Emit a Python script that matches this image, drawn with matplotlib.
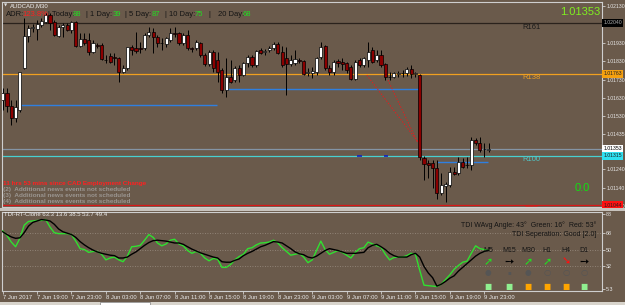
import matplotlib
matplotlib.use("Agg")
import matplotlib.pyplot as plt
import matplotlib.transforms as mtransforms
from matplotlib.patches import Rectangle
import numpy as np

plt.rcParams['font.family'] = ['Liberation Sans', 'DejaVu Sans']

# ---------------- data ----------------
opens = [1.01619, 1.01657, 1.01586, 1.01521, 1.01564, 1.01794, 1.01968, 1.02012, 1.02007, 1.02028,
         1.02045, 1.02083, 1.02045, 1.01968, 1.02018, 1.02028, 1.02001, 1.02045, 1.01914, 1.01952,
         1.01947, 1.01881, 1.01919, 1.01919, 1.01837, 1.01859, 1.01854, 1.01848, 1.01772, 1.01794,
         1.01908, 1.01903, 1.01903, 1.01903, 1.01974, 1.01990, 1.01963, 1.01930, 1.01925, 1.01947,
         1.01985, 1.01985, 1.01930, 1.01974, 1.01903, 1.01903, 1.01930, 1.01865, 1.01816, 1.01881,
         1.01837, 1.01783, 1.01674, 1.01745, 1.01728, 1.01794, 1.01755, 1.01821, 1.01854, 1.01810,
         1.01892, 1.01881, 1.01892, 1.01903, 1.01925, 1.01881, 1.01848, 1.01816, 1.01821, 1.01837,
         1.01832, 1.01766, 1.01766, 1.01772, 1.01854, 1.01914, 1.01794, 1.01772, 1.01832, 1.01826,
         1.01821, 1.01799, 1.01734, 1.01837, 1.01810, 1.01837, 1.01892, 1.01837, 1.01865, 1.01816,
         1.01745, 1.01745, 1.01761, 1.01766, 1.01766, 1.01788, 1.01761, 1.01755, 1.01302, 1.01275,
         1.01275, 1.01248, 1.01111, 1.01149, 1.01155, 1.01226, 1.01220, 1.01280, 1.01264, 1.01264,
         1.01401, 1.01384, 1.01351, 1.01346]
highs = [1.01685, 1.01685, 1.01619, 1.01619, 1.01772, 1.02067, 1.02028, 1.02034, 1.02056, 1.02067,
         1.02094, 1.02094, 1.02056, 1.02028, 1.02039, 1.02039, 1.02050, 1.02050, 1.01985, 1.01985,
         1.01985, 1.01947, 1.01930, 1.01930, 1.01865, 1.01876, 1.01876, 1.01854, 1.01810, 1.01908,
         1.01919, 1.01990, 1.01936, 1.01985, 1.02018, 1.02012, 1.01974, 1.01958, 1.01963, 1.02012,
         1.02018, 1.01990, 1.01985, 1.02001, 1.01908, 1.01947, 1.01936, 1.01876, 1.01892, 1.01892,
         1.01881, 1.01794, 1.01848, 1.01837, 1.01805, 1.01810, 1.01826, 1.01865, 1.01865, 1.01892,
         1.01903, 1.01897, 1.01914, 1.01936, 1.01936, 1.01914, 1.01908, 1.01865, 1.01892, 1.01848,
         1.01837, 1.01794, 1.01799, 1.01854, 1.01936, 1.01919, 1.01810, 1.01837, 1.01843, 1.01848,
         1.01826, 1.01810, 1.01837, 1.01848, 1.01854, 1.01936, 1.01908, 1.01892, 1.01892, 1.01821,
         1.01772, 1.01772, 1.01777, 1.01783, 1.01799, 1.01810, 1.01772, 1.01761, 1.01313, 1.01291,
         1.01291, 1.01291, 1.01220, 1.01171, 1.01253, 1.01253, 1.01308, 1.01302, 1.01308, 1.01417,
         1.01412, 1.01417, 1.01384, 1.01384]
lows = [1.01564, 1.01553, 1.01482, 1.01499, 1.01553, 1.01788, 1.01936, 1.01990, 1.01947, 1.02018,
        1.02039, 1.02001, 1.01968, 1.01963, 1.01963, 1.01996, 1.01985, 1.01908, 1.01908, 1.01919,
        1.01865, 1.01876, 1.01903, 1.01837, 1.01821, 1.01821, 1.01810, 1.01717, 1.01766, 1.01783,
        1.01865, 1.01876, 1.01876, 1.01892, 1.01963, 1.01876, 1.01908, 1.01892, 1.01908, 1.01936,
        1.01963, 1.01919, 1.01919, 1.01892, 1.01881, 1.01892, 1.01854, 1.01805, 1.01805, 1.01772,
        1.01717, 1.01657, 1.01635, 1.01712, 1.01717, 1.01717, 1.01750, 1.01799, 1.01799, 1.01799,
        1.01870, 1.01865, 1.01881, 1.01892, 1.01870, 1.01799, 1.01646, 1.01805, 1.01810, 1.01821,
        1.01755, 1.01750, 1.01739, 1.01755, 1.01843, 1.01783, 1.01755, 1.01755, 1.01799, 1.01783,
        1.01766, 1.01728, 1.01728, 1.01799, 1.01799, 1.01799, 1.01821, 1.01826, 1.01799, 1.01728,
        1.01728, 1.01739, 1.01745, 1.01745, 1.01750, 1.01739, 1.01745, 1.01291, 1.01182, 1.01193,
        1.01139, 1.01078, 1.01100, 1.01062, 1.01144, 1.01209, 1.01209, 1.01248, 1.01248, 1.01237,
        1.01373, 1.01335, 1.01308, 1.01335]
closes = [1.01657, 1.01586, 1.01521, 1.01581, 1.01772, 1.01968, 1.02012, 1.02018, 1.02034, 1.02050,
          1.02083, 1.02039, 1.01974, 1.02018, 1.02028, 1.02001, 1.02045, 1.01914, 1.01952, 1.01930,
          1.01881, 1.01930, 1.01914, 1.01843, 1.01840, 1.01826, 1.01851, 1.01772, 1.01794, 1.01908,
          1.01892, 1.01887, 1.01900, 1.01974, 1.01990, 1.01963, 1.01930, 1.01928, 1.01958, 1.01985,
          1.01979, 1.01930, 1.01974, 1.01903, 1.01897, 1.01936, 1.01865, 1.01816, 1.01881, 1.01794,
          1.01772, 1.01674, 1.01745, 1.01717, 1.01794, 1.01755, 1.01821, 1.01854, 1.01810, 1.01887,
          1.01876, 1.01887, 1.01903, 1.01925, 1.01876, 1.01810, 1.01816, 1.01837, 1.01843, 1.01832,
          1.01761, 1.01772, 1.01777, 1.01848, 1.01908, 1.01794, 1.01772, 1.01826, 1.01821, 1.01816,
          1.01783, 1.01734, 1.01826, 1.01810, 1.01848, 1.01881, 1.01826, 1.01865, 1.01810, 1.01745,
          1.01743, 1.01766, 1.01766, 1.01764, 1.01788, 1.01761, 1.01766, 1.01308, 1.01270, 1.01264,
          1.01248, 1.01111, 1.01155, 1.01160, 1.01226, 1.01215, 1.01280, 1.01253, 1.01262, 1.01401,
          1.01384, 1.01346, 1.01349, 1.01353]

tdi_green = [70, 65, 58, 53, 62, 76, 80, 80.5, 81, 81, 82, 74, 68, 67, 67, 67, 66, 59, 51, 50,
             47, 48, 48, 45, 39, 41, 42, 39, 37, 43, 53, 53.5, 54.5, 60, 66, 63, 57, 54, 56, 60,
             61, 56, 54, 49, 46, 48, 46, 41, 38, 40.6, 39.7, 31, 31, 34, 39, 42.5, 45, 51, 52, 55,
             57, 57.3, 58, 60, 57, 52, 48, 44, 45, 46, 42, 36, 39, 49, 59, 50, 45, 47, 49, 47,
             44, 41, 47, 51, 52, 58, 56, 54, 52.5, 45, 39, 41.5, 42, 42, 43.5, 46, 45, 28, 12, 11.5,
             11, 10.5, 13, 18, 23, 29, 33, 36.5, 37.6, 46, 54, 51, 50, 49.3]
tdi_black = [69, 66, 63.5, 62, 62.5, 68, 75, 79, 80.5, 82, 81.5, 80.5, 77, 72, 69, 67.5, 66, 63, 58.5, 55,
             52, 49.5, 47.5, 46, 45, 44, 43.5, 41, 41, 42, 45, 47.5, 51, 54.5, 57.5, 59.5, 60, 59.5, 59, 58,
             57, 57, 55.6, 53, 50.5, 48.5, 46.5, 45, 43.5, 42, 41, 37, 36.5, 36.5, 38.5, 40, 43.5, 46, 48, 50.5,
             53, 54.5, 56.5, 58.5, 58, 57, 54, 51, 47.5, 45.5, 44.5, 42, 41, 43, 46, 49, 51, 50, 49, 47.5,
             46, 46, 46, 46.5, 47, 52, 54.5, 55.6, 53, 50, 46, 43.5, 42, 42, 42, 44.5, 46, 42, 32, 25,
             20, 11, 13, 16, 19.5, 22, 27, 31, 35, 39, 43, 46, 48, 49.3]

level_names = ['R161', 'R138', 'R100', 'R78']
level_prices = [1.02040, 1.01763, 1.01315, 1.01044]
bid_price = 1.01353

support_start = [4.0, 52.2, 101.0]
support_end = [49.8, 97.0, 112.9]
support_price = [1.01590, 1.01677, 1.01278]

trend_x = [[84.7, 96.6], [89.6, 96.6]]
trend_y = [[1.01755, 1.01390], [1.01728, 1.01384]]

price_ticks = [1.02130, 1.01930, 1.01830, 1.01730, 1.01630, 1.01530, 1.01435, 1.01240, 1.01140, 1.01040]
time_tick_idx = [0, 8, 16, 24, 32, 40, 48, 56, 64, 72, 80, 88, 96, 104, 112]
time_tick_labels = ['7 Jun 2017', '7 Jun 19:00', '7 Jun 23:00', '8 Jun 03:00', '8 Jun 07:00',
                    '8 Jun 11:00', '8 Jun 15:00', '8 Jun 19:00', '8 Jun 23:00', '9 Jun 03:00',
                    '9 Jun 07:00', '9 Jun 11:00', '9 Jun 15:00', '9 Jun 19:00', '9 Jun 23:00']
tdi_levels = [68, 50, 32]
tdi_ticks = [88, 68, 50, 32, 8]
tdi_tick_labels = ['88', '68', '50', '32', '5.3']

adr_labels = ['Today:', '1 Day:', '5 Day:', '10 Day:', '20 Day:']
adr_values = ['88', '39', '87', '75', '68']
tf_names = ['M5', 'M15', 'M30', 'H1', 'H4', 'D1']
tf_arrows = ['up', 'flat', 'up', 'up', 'down', 'flat']
tf_dots = ['fill', 'small', 'fill', 'ring', 'ring', 'ring']
tf_squares = ['green', 'green', 'orange', 'orange', 'orange', 'green']

# ---------------- figure ----------------
W, H = 625, 305
BG = '#6A5A4B'
fig = plt.figure(figsize=(W / 100, H / 100), dpi=100)
fig.patch.set_facecolor(BG)


def fx(x):
    return x / W


def fy(y):
    return 1 - y / H


def px_axes(x0, y0, x1, y1):
    return fig.add_axes([x0 / W, 1 - y1 / H, (x1 - x0) / W, (y1 - y0) / H])


ax = px_axes(2, 2, 602, 207)
ax.set_facecolor(BG)
n = len(opens)
ax.set_xlim(-0.16, 139.4)
ax.set_ylim(1.01035, 1.02154)

for i in range(n):
    o, h, l, c = opens[i], highs[i], lows[i], closes[i]
    ax.vlines(i, l, h, color='black', lw=0.7, zorder=4)
    bull = c >= o
    ax.add_patch(Rectangle((i - 0.36, min(o, c)), 0.72, max(abs(c - o), 0.000012),
                           facecolor='white' if bull else '#8B0000',
                           edgecolor='black', lw=0.5, zorder=5))

level_colors = ['#2A221C', '#F0A020', '#48D0D0', '#D81818']
for name, p, col in zip(level_names, level_prices, level_colors):
    ax.axhline(p, color=col, lw=0.9, zorder=2)
ax.axhline(bid_price, color='#8494A4', lw=0.9, zorder=2)

for s, e, p in zip(support_start, support_end, support_price):
    ax.hlines(p, s, e, color='#2F7FE0', lw=1.0, zorder=3)

for tx, ty in zip(trend_x, trend_y):
    ax.plot(tx, ty, color='#E02020', lw=0.7, ls=(0, (1.5, 1.5)), zorder=3)

# small dark-blue marks on R100
ax.hlines(level_prices[2] - 0.00002, 82.5, 83.5, color='#1020C0', lw=1.2, zorder=3)
ax.hlines(level_prices[2] - 0.00002, 88.6, 89.6, color='#1020C0', lw=1.2, zorder=3)

# R labels
lab_kw = dict(fontsize=5.5, zorder=6)
ax.text(120.8, level_prices[0] - 0.00004, 'R161', color='#1A1A1A', va='top', **lab_kw)
ax.text(120.8, level_prices[1] - 0.00004, 'R138', color='#F0A020', va='top', **lab_kw)
ax.text(120.8, level_prices[2] - 0.00004, 'R100', color='#50C8C8', va='top', **lab_kw)
ax.text(121.3, level_prices[3] - 0.00004, 'R78', color='#E02020', va='top', clip_on=True, **lab_kw)

# right price axis
ax.yaxis.tick_right()
ax.set_yticks(price_ticks)
ax.set_yticklabels(['%.5f' % v for v in price_ticks])
ax.tick_params(axis='y', colors='#E8E8E8', labelsize=3.7, length=2, width=0.5, pad=1)
ax.set_xticks([])
for sp in ax.spines.values():
    sp.set_color('#CFCFCF')
    sp.set_linewidth(0.8)

trans = mtransforms.blended_transform_factory(ax.transAxes, ax.transData)
box_specs = [(level_prices[0], '#000000', '#B0B0B0'),
             (level_prices[1], '#F5A010', '#202020'),
             (bid_price, '#FFFFFF', '#000000'),
             (level_prices[2], '#30E0F0', '#202020'),
             (level_prices[3], '#FF1010', '#202020')]
for p, fc, tc in box_specs:
    ax.text(1.0022, p, '%.5f' % p, transform=trans, fontsize=3.7, color=tc, va='center', ha='left',
            bbox=dict(boxstyle='square,pad=0.3', fc=fc, ec='none'), zorder=10, clip_on=False)

# header texts
fig.text(fx(4), fy(5.5), '\u25BC', fontsize=3, color='#E0E0E0', va='center', family='DejaVu Sans')
fig.text(fx(10), fy(5.5), 'AUDCAD,M30', fontsize=4.3, color='#F0F0F0', va='center')
ty = fy(15)
fig.text(fx(6), ty, 'ADR:', fontsize=5.5, color='#141414', va='center')
fig.text(fx(22.5), ty, '123.8%', fontsize=5.5, color='#FF2020', va='center')
adr_x_lab = [48, 86, 125, 165]
adr_x_val = [73, 112.5, 151.5, 195]
for lx, vx, lab, val in zip(adr_x_lab, adr_x_val, adr_labels[:4], adr_values[:4]):
    fig.text(fx(lx), ty, '| ' + lab, fontsize=5.5, color='#141414', va='center')
    fig.text(fx(vx), ty, val, fontsize=5.5, color='#20E020', va='center')
fig.text(fx(208), ty, '|', fontsize=5.5, color='#141414', va='center')
fig.text(fx(218), ty, adr_labels[4], fontsize=5.5, color='#141414', va='center')
fig.text(fx(243), ty, adr_values[4], fontsize=5.5, color='#20E020', va='center')

fig.text(fx(600), fy(12), '%.5f' % bid_price, fontsize=8, color='#80F020', va='center', ha='right')
fig.text(fx(590), fy(188), '0.0', fontsize=8, color='#10E010', va='center', ha='right')

news_kw = dict(fontsize=4.6, va='center', fontweight='bold')
fig.text(fx(3), fy(183), '11 hrs 53 mins since CAD Employment Change', color='#FF2020', **news_kw)
fig.text(fx(3), fy(189), '(2)  Additional news events not scheduled', color='#9A9590', **news_kw)
fig.text(fx(3), fy(195), '(3)  Additional news events not scheduled', color='#9A9590', **news_kw)
fig.text(fx(3), fy(201.5), '(4)  Additional news events not scheduled', color='#9A9590', **news_kw)

# separator between panels
fig.patches.append(Rectangle((0, fy(210.5)), 1, 2.5 / H, transform=fig.transFigure,
                             facecolor='#C8C3BD', edgecolor='none', zorder=0))

# ---------------- lower panel ----------------
ax2 = px_axes(2, 211.5, 602, 291)
ax2.set_facecolor(BG)
ax2.set_xlim(-0.16, 139.4)
ax2.set_ylim(5.8, 90.6)
idx = np.arange(n)
for lv in tdi_levels:
    ax2.axhline(lv, color='#9C9084', lw=0.6, ls=(0, (1, 2)), zorder=1)
ax2.plot(idx, tdi_green, color='#30E030', lw=1.0, zorder=3)
ax2.plot(idx, tdi_black, color='#000000', lw=1.0, zorder=4)
ax2.yaxis.tick_right()
ax2.set_yticks(tdi_ticks)
ax2.set_yticklabels(tdi_tick_labels)
ax2.tick_params(axis='y', colors='#E8E8E8', labelsize=3.9, length=2, width=0.5, pad=1)
ax2.set_xticks(time_tick_idx)
ax2.set_xticklabels(time_tick_labels, ha='left')
ax2.tick_params(axis='x', colors='#E8E8E8', labelsize=4.2, length=2, width=0.5, pad=1.2)
for sp in ax2.spines.values():
    sp.set_color('#CFCFCF')
    sp.set_linewidth(0.8)

fig.text(fx(4), fy(214), 'TDI-RT-Clone 63.3 13.6 38.5 53.7 49.4', fontsize=4.3, color='#F0F0F0', va='center')
fig.text(fx(596), fy(225.5), 'TDI WAvg Angle: 43\u00b0  Green: 16\u00b0  Red: 53\u00b0', fontsize=5,
         color='#141414', va='center', ha='right')
fig.text(fx(596), fy(234), 'TDI Seperation: Good [2.0]', fontsize=5, color='#141414', va='center', ha='right')

tf_x = [488, 509, 528, 547, 566, 584]
arrow_map = {'up': ('\u279A', '#20E020'), 'flat': ('\u2799', '#000000'), 'down': ('\u2798', '#FF1010')}
for x, name, ar, dt, sq in zip(tf_x, tf_names, tf_arrows, tf_dots, tf_squares):
    fig.text(fx(x), fy(250), name, fontsize=5, color='#141414', va='center', ha='center')
    sym, col = arrow_map[ar]
    fig.text(fx(x), fy(262), sym, fontsize=8, color=col, va='center', ha='center',
             family='DejaVu Sans', fontweight='bold')
    if dt == 'fill':
        fig.text(fx(x), fy(273), '\u25CF', fontsize=5.5, color='#555555', va='center', ha='center', family='DejaVu Sans')
    elif dt == 'small':
        fig.text(fx(x), fy(273), '\u25AA', fontsize=4, color='#555555', va='center', ha='center', family='DejaVu Sans')
    else:
        fig.text(fx(x), fy(273), '\u25CB', fontsize=6, color='#555555', va='center', ha='center',
                 family='DejaVu Sans', fontweight='bold')
    fig.text(fx(x), fy(286), '\u25A0', fontsize=5.5, color='#90F090' if sq == 'green' else '#FFA500',
             va='center', ha='center', family='DejaVu Sans')

# bottom tab strip
fig.patches.append(Rectangle((0, 0), 1, 3 / H, transform=fig.transFigure,
                             facecolor='#D8D4CC', edgecolor='none'))
fig.patches.append(Rectangle((fx(100), 0), 50 / W, 3 / H, transform=fig.transFigure,
                             facecolor='#FFFFFF', edgecolor='#808080', lw=0.5))

fig.savefig('out.png', dpi=100, facecolor=BG)
